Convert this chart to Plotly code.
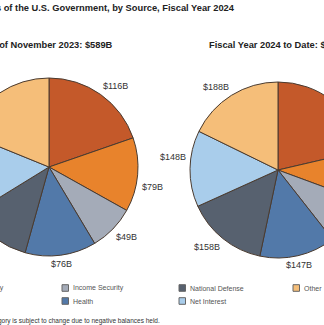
import math
import plotly.graph_objects as go

# ---- data ----
categories = ["Social Security", "Medicare", "Income Security", "Health",
              "National Defense", "Net Interest", "Other"]
month_values = [116, 79, 49, 76, 70, 88, 111]          # November 2023, $B
ytd_values = [226, 98, 93, 147, 158, 148, 188]          # FY2024 to date, $B
colors = ["#C4592A", "#E8832C", "#A4ABB8", "#5279A9", "#57616F", "#A9CDEB", "#F5BE79"]

title_text = "Outlays of the U.S. Government, by Source, Fiscal Year 2024"
sub_left = "This Month of November 2023: $%dB" % sum(month_values)
sub_right = "Fiscal Year 2024 to Date: $%sB" % f"{sum(ytd_values):,}"
footnote = "*This category is subject to change due to negative balances held."

# ---- layout geometry (full chart; the view is offset to the left) ----
W, H = 504, 325
OFF = 110
FONT = "Liberation Sans, Arial, sans-serif"
LABEL_SIZE = 9
LABEL_GAP = 4
LABEL_SEP = 30


def px(x):
    return (x + OFF) / W


def py(y):
    return 1 - y / H


pies = [
    dict(values=month_values, cx=49, cy=167, r=89),
    dict(values=ytd_values, cx=278, cy=170, r=88),
]

fig = go.Figure()
for p in pies:
    fig.add_trace(go.Pie(
        values=p["values"], labels=categories,
        marker=dict(colors=colors, line=dict(color="#4a3b30", width=1)),
        sort=False, direction="clockwise", rotation=0,
        textinfo="none", showlegend=False, hoverinfo="label+value",
        domain=dict(x=[px(p["cx"] - p["r"]), px(p["cx"] + p["r"])],
                    y=[py(p["cy"] + p["r"]), py(p["cy"] - p["r"])]),
    ))

# ---- value labels placed at each slice's mid-angle, just outside the pie ----
labels = []
for p in pies:
    total = sum(p["values"])
    cum = 0
    for v in p["values"]:
        mid = (cum + v / 2) / total * 2 * math.pi
        cum += v
        s, c = math.sin(mid), math.cos(mid)
        R = p["r"] + LABEL_GAP
        x, y = p["cx"] + R * s, p["cy"] - R * c
        text = "$%dB" % v
        w = 0.578 * LABEL_SIZE * len(text)
        h = 1.15 * LABEL_SIZE
        bx = x + w / 2 if s > 0.3 else (x - w / 2 if s < -0.3 else x)
        by = y - h / 2 if c > 0.3 else (y + h / 2 if c < -0.3 else y)
        labels.append(dict(text=text, x=bx, y=by, w=w, h=h))

# simple collision avoidance: push overlapping labels apart vertically
for i in range(len(labels)):
    for j in range(i + 1, len(labels)):
        a, b = labels[i], labels[j]
        if abs(a["x"] - b["x"]) < (a["w"] + b["w"]) / 2 and abs(a["y"] - b["y"]) < (a["h"] + b["h"]) / 2:
            m = (a["y"] + b["y"]) / 2
            up, down = (a, b) if a["y"] <= b["y"] else (b, a)
            up["y"], down["y"] = m - LABEL_SEP / 2, m + LABEL_SEP / 2

ann = []
for l in labels:
    ann.append(dict(text=l["text"], x=px(l["x"]), y=py(l["y"]), xanchor="center", yanchor="middle",
                    font=dict(family=FONT, size=LABEL_SIZE, color="#333333")))

ann.append(dict(text="<b>%s</b>" % title_text, x=px(237), y=py(8), xanchor="right", yanchor="middle",
                font=dict(family=FONT, size=9.3, color="#222222")))
ann.append(dict(text="<b>%s</b>" % sub_left, x=px(115), y=py(44.5), xanchor="right", yanchor="middle",
                font=dict(family=FONT, size=9.3, color="#222222")))
ann.append(dict(text="<b>%s</b>" % sub_right, x=px(207), y=py(44.5), xanchor="left", yanchor="middle",
                font=dict(family=FONT, size=9.3, color="#222222")))
ann.append(dict(text=footnote, x=px(162), y=py(321), xanchor="right", yanchor="middle",
                font=dict(family=FONT, size=6.5, color="#333333")))

# ---- legend (2 rows, column-major) ----
shapes = []
col_text_x = [-45, 71, 188, 302]
row_y = [288, 301]
for i, (cat, col) in enumerate(zip(categories, colors)):
    c, r = i // 2, i % 2
    tx = col_text_x[c]
    yy = row_y[r]
    shapes.append(dict(type="rect", xref="paper", yref="paper",
                       x0=px(tx - 9), x1=px(tx - 2.5), y0=py(yy + 3.3), y1=py(yy - 3.3),
                       fillcolor=col, line=dict(color="#666666", width=1)))
    ann.append(dict(text=cat, x=px(tx), y=py(yy), xanchor="left", yanchor="middle",
                    font=dict(family=FONT, size=7, color="#555555")))

for a in ann:
    a.update(xref="paper", yref="paper", showarrow=False)

fig.update_layout(
    width=W, height=H,
    margin=dict(l=0, r=0, t=0, b=0),
    paper_bgcolor="white", plot_bgcolor="white",
    annotations=ann, shapes=shapes,
)

shift_js = (
    "var gd=document.getElementById('{plot_id}');"
    "gd.style.marginLeft='-%dpx';"
    "document.documentElement.style.overflow='hidden';"
    "document.body.style.overflow='hidden';"
    "document.body.style.margin='0';" % OFF
)

fig.write_html("out.html", config={"displayModeBar": False}, post_script=shift_js)
